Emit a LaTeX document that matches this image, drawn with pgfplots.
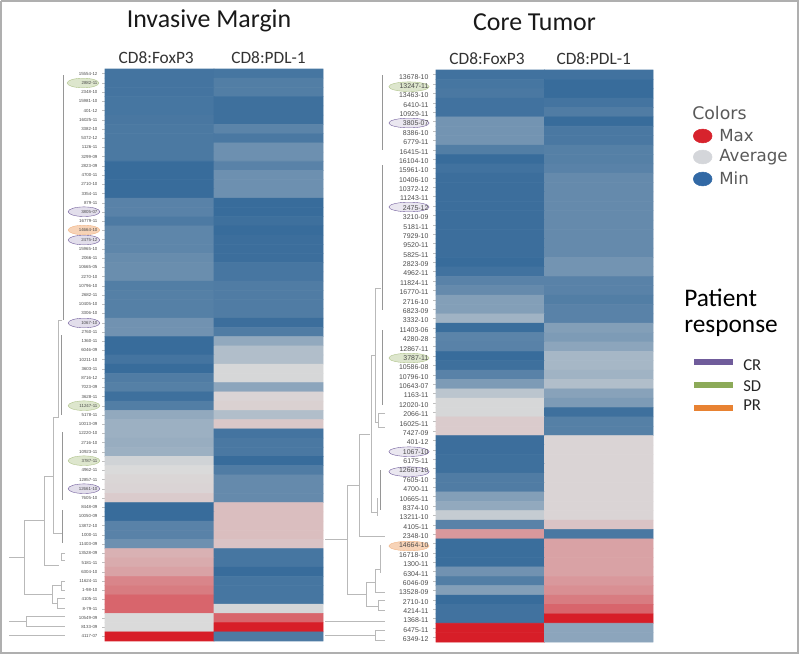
\documentclass[border=0pt]{standalone}
\usepackage{fontspec}
\setmainfont{Carlito}
\newfontfamily\lab{Liberation Sans}
\newfontfamily\leg{DejaVu Sans}
\usepackage{pgfplots}
\pgfplotsset{compat=1.18}

% 1 px of the reference = 0.75pt
\definecolor{dend}{RGB}{185,185,185}
\definecolor{dendd}{RGB}{150,150,150}
\definecolor{frame}{RGB}{175,175,175}
\definecolor{crl}{RGB}{112,92,155}
\definecolor{sdl}{RGB}{140,170,88}
\definecolor{prl}{RGB}{232,130,50}
\definecolor{keymax}{RGB}{215,35,45}
\definecolor{keyavg}{RGB}{212,214,218}
\definecolor{keymin}{RGB}{50,105,165}

\pgfplotsset{
  colormap={hm}{rgb255(0)=(56,108,155) rgb255(2)=(115,148,178) rgb255(4)=(218,218,218) rgb255(8)=(215,30,40)},
  panel/.style={
    scale only axis, anchor=north west,
    colormap name=hm, point meta min=-1, point meta max=1,
    y dir=reverse, xmin=-0.5, xmax=1.5, ymin=-0.5,
    axis line style={draw=none}, clip=false,
    xtick pos=top, xticklabel pos=top, ytick pos=left,
    xtick style={draw=none}, ytick style={draw=black!25, line width=0.3pt},
    tick align=outside, major tick length=2pt,
    xticklabel style={font=\fontsize{13}{15}\selectfont, text=black!80, anchor=center, yshift=6.5pt},
    yticklabel style={inner sep=0pt, xshift=-3.5pt},
    title style={font=\fontsize{19.4}{22}\selectfont, anchor=center, text=black!90},
  },
  hm/.style={matrix plot*, mesh/cols=2, point meta=explicit},
}

\begin{document}
\begin{tikzpicture}
\useasboundingbox (0,0) rectangle (600pt,-491.25pt);

% canvas in reference pixels: frame, dendrograms, ovals, legend
\begin{axis}[scale only axis, hide axis, clip=false, at={(0pt,0pt)}, anchor=north west,
  width=600pt, height=491.25pt, xmin=0, xmax=800, ymin=0, ymax=655, y dir=reverse,
  unbounded coords=jump]
\addplot[frame, line width=1.1pt] coordinates {(1,1)(798,1)(798,653)(1,653)(1,1)};

% trees
\addplot[dend, line width=0.6pt] coordinates {
  (9,557.7)(24,557.7) (nan,nan)
  (43.5,520)(24,520)(24,594)(52,594) (nan,nan)
  (53,476)(44,476)(44,565)(59,565) (nan,nan)
  (62,320)(58,320)(58,417)(53,417)(53,533)(62,533) (nan,nan)
  (53,476)(53,417) (nan,nan)
  (61,585)(52,585)(52,603)(57.7,603) (nan,nan)
  (65,598)(57.7,598)(57.7,608)(65,608) (nan,nan)
  (65,581)(61,581)(61,590)(65,590) (nan,nan)
  (65,553)(61,553)(61,560)(65,560) (nan,nan)
  (9,621.7)(26,621.7) (nan,nan)
  (65,616.7)(26,616.7)(26,626.7)(65,626.7) (nan,nan)
  (9,635.7)(65,635.7) (nan,nan)
  (325,539)(347.7,539) (nan,nan)
  (325,621.7)(385,621.7) (nan,nan)
  (325,635)(375,635) (nan,nan)
  (385,630)(375,630)(375,640)(385,640) (nan,nan)
  (359,485)(347.7,485)(347.7,594)(366.7,594) (nan,nan)
  (370,434)(359,434)(359,536)(385,536) (nan,nan)
  (375,355)(371,355)(371,512)(378,512) (nan,nan)
  (381,288)(375,288)(375,422)(378,422) (nan,nan)
  (385,413)(378,413)(378,427)(385,427) (nan,nan)
  (375,582)(366.7,582)(366.7,606)(378,606) (nan,nan)
  (380,569)(375,569)(375,592.7)(385,592.7) (nan,nan)
  (385,600)(378,600)(378,610)(385,610) (nan,nan)
  (380,545)(380,573) (nan,nan)
  (377,498)(377,516) (nan,nan)
};
\addplot[dendd, line width=0.6pt] coordinates {
  (63,75)(63,320) (nan,nan)
  (61.5,335)(61.5,415) (nan,nan)
  (62,432)(62,500) (nan,nan)
  (62,510)(62,543) (nan,nan)
  (382.5,75)(382.5,150) (nan,nan)
  (382,165)(382,310) (nan,nan)
  (382,330)(382,405) (nan,nan)
  (380,470)(380,510) (nan,nan)
};

% response ovals, under the labels
\addplot[only marks, mark=*, mark size=3.6pt,
  mark options={xscale=3.3, draw=sdl!70, fill=sdl!30, line width=0.3pt}]
  coordinates {(83,83)(84,405.7)(84,460.7)};
\addplot[only marks, mark=*, mark size=3.6pt,
  mark options={xscale=3.3, draw=crl, fill=crl!20, line width=0.3pt}]
  coordinates {(84,211.7)(84,240)(84,323)(84,488.7)};
\addplot[only marks, mark=*, mark size=3.6pt,
  mark options={xscale=3.3, draw=prl!60, fill=prl!35, line width=0.3pt}]
  coordinates {(84,230)};
\addplot[only marks, mark=*, mark size=3.6pt,
  mark options={xscale=4.2, draw=sdl!70, fill=sdl!30, line width=0.3pt}]
  coordinates {(409,86.7)(409,358)};
\addplot[only marks, mark=*, mark size=3.6pt,
  mark options={xscale=4.2, draw=crl, fill=crl!15, line width=0.3pt}]
  coordinates {(409,123)(409,207)(409,451.7)(409,471.7)};
\addplot[only marks, mark=*, mark size=3.6pt,
  mark options={xscale=4.2, draw=prl!60, fill=prl!35, line width=0.3pt}]
  coordinates {(409,546)};

% colour key
\addplot[only marks, mark=*, mark size=5.2pt, mark options={xscale=1.35, draw=keymax, fill=keymax}] coordinates {(702.7,136)};
\addplot[only marks, mark=*, mark size=5.2pt, mark options={xscale=1.35, draw=keyavg, fill=keyavg}] coordinates {(702.7,157)};
\addplot[only marks, mark=*, mark size=5.2pt, mark options={xscale=1.35, draw=keymin, fill=keymin}] coordinates {(702.7,179)};
\node[anchor=west, inner sep=0pt, text=black!65, font=\leg\fontsize{13}{15}\selectfont] at (axis cs:692,113) {Colors};
\node[anchor=west, inner sep=0pt, text=black!65, font=\leg\fontsize{12.5}{14}\selectfont] at (axis cs:719,136) {Max};
\node[anchor=west, inner sep=0pt, text=black!65, font=\leg\fontsize{12.5}{14}\selectfont] at (axis cs:719,157) {Average};
\node[anchor=west, inner sep=0pt, text=black!65, font=\leg\fontsize{12.5}{14}\selectfont] at (axis cs:719,178) {Min};

% response key
\node[anchor=west, inner sep=0pt, font=\fontsize{19}{22}\selectfont] at (axis cs:684,298) {Patient};
\node[anchor=west, inner sep=0pt, font=\fontsize{19}{22}\selectfont] at (axis cs:684,328) {response};
\addplot[crl, line width=4.5pt] coordinates {(694,362)(733,362)};
\addplot[sdl, line width=4.5pt] coordinates {(694,385)(733,385)};
\addplot[prl, line width=4.5pt] coordinates {(694,408)(733,408)};
\node[anchor=west, inner sep=0pt, font=\fontsize{12.5}{14}\selectfont, text=black!85] at (axis cs:743,365) {CR};
\node[anchor=west, inner sep=0pt, font=\fontsize{12.5}{14}\selectfont, text=black!85] at (axis cs:743,386) {SD};
\node[anchor=west, inner sep=0pt, font=\fontsize{12.5}{14}\selectfont, text=black!85] at (axis cs:743,405) {PR};
\end{axis}

% Invasive Margin
\begin{axis}[panel, at={(78.75pt,-51.75pt)}, width=163.5pt, height=429pt, ymax=61.5,
  title={Invasive Margin},
  title style={at={(0.477,1)}, yshift=30.5pt},
  xtick={-0.03,1}, xticklabels={CD8:FoxP3,CD8:PDL-1},
  ytick={0,...,61},
  yticklabel style={font=\lab\fontsize{3.3}{4}\selectfont, text=black!70},
  yticklabels={15554-12,2882-11,2348-10,15981-10,401-12,16025-11,3382-10,5372-12,1126-11,3299-09,
    2823-09,4700-11,2710-10,3354-11,879-11,3805-07,16779-11,14664-10,2475-12,15965-10,
    2066-11,10665-05,2270-10,10796-10,2682-11,10405-10,3306-10,1067-10,2760-11,1360-11,
    6046-09,10211-10,3603-11,8716-12,7023-09,3628-11,11247-11,5178-11,10013-09,12220-10,
    2716-10,10923-11,3787-11,4962-11,12857-11,12661-10,7605-10,8448-09,10050-09,13872-10,
    1000-11,11403-09,13528-09,5181-11,6304-10,11624-11,1-98-10,4105-11,8-79-11,10549-09,
    8133-09,4117-07}]
\addplot[hm] table[meta=v] {
x y v
0 0 -0.90
1 0 -0.88
0 1 -0.90
1 1 -0.78
0 2 -0.90
1 2 -0.78
0 3 -0.88
1 3 -0.95
0 4 -0.88
1 4 -0.95
0 5 -0.86
1 5 -0.95
0 6 -0.84
1 6 -0.70
0 7 -0.84
1 7 -0.85
0 8 -0.84
1 8 -0.55
0 9 -0.84
1 9 -0.55
0 10 -1.00
1 10 -0.72
0 11 -1.00
1 11 -0.55
0 12 -1.00
1 12 -0.55
0 13 -1.00
1 13 -0.55
0 14 -0.72
1 14 -1.00
0 15 -0.72
1 15 -1.00
0 16 -0.82
1 16 -0.95
0 17 -0.68
1 17 -1.00
0 18 -0.68
1 18 -0.97
0 19 -0.68
1 19 -0.97
0 20 -0.60
1 20 -0.97
0 21 -0.58
1 21 -0.87
0 22 -0.58
1 22 -0.87
0 23 -0.78
1 23 -0.80
0 24 -0.75
1 24 -0.80
0 25 -0.75
1 25 -0.80
0 26 -0.75
1 26 -0.80
0 27 -0.52
1 27 -0.97
0 28 -0.52
1 28 -0.80
0 29 -1.00
1 29 -0.35
0 30 -1.00
1 30 -0.20
0 31 -0.90
1 31 -0.20
0 32 -1.00
1 32 -0.02
0 33 -0.80
1 33 -0.02
0 34 -0.75
1 34 -0.38
0 35 -0.95
1 35 0.03
0 36 -0.78
1 36 0.05
0 37 -0.35
1 37 -0.20
0 38 -0.30
1 38 0.10
0 39 -0.30
1 39 -0.90
0 40 -0.32
1 40 -0.85
0 41 -0.30
1 41 -0.85
0 42 -0.05
1 42 -1.00
0 43 0.00
1 43 -0.80
0 44 0.02
1 44 -0.62
0 45 0.03
1 45 -0.62
0 46 0.08
1 46 -0.62
0 47 -1.00
1 47 0.15
0 48 -1.00
1 48 0.15
0 49 -0.72
1 49 0.15
0 50 -0.72
1 50 0.15
0 51 -0.55
1 51 0.12
0 52 0.22
1 52 -0.88
0 53 0.25
1 53 -0.88
0 54 0.30
1 54 -1.00
0 55 0.45
1 55 -0.88
0 56 0.50
1 56 -0.88
0 57 0.62
1 57 -0.88
0 58 0.62
1 58 -0.03
0 59 0.00
1 59 0.62
0 60 0.00
1 60 1.00
0 61 1.00
1 61 -0.82
};
\end{axis}

% Core Tumor
\begin{axis}[panel, at={(327pt,-52.5pt)}, width=162.75pt, height=429pt, ymax=60.5,
  title={Core Tumor},
  title style={at={(0.454,1)}, yshift=30pt},
  xtick={-0.03,0.954}, xticklabels={CD8:FoxP3,CD8:PDL-1},
  ytick={0,...,60},
  yticklabel style={font=\lab\fontsize{5.2}{6}\selectfont, text=black!70, yshift=-1.5pt},
  yticklabels={13678-10,13247-11,13463-10,6410-11,10929-11,3805-07,8386-10,6779-11,16415-11,16104-10,
    15961-10,10406-10,10372-12,11243-11,2475-12,3210-09,5181-11,7929-10,9520-11,5825-11,
    2823-09,4962-11,11824-11,16770-11,2716-10,6823-09,3332-10,11403-06,4280-28,12867-11,
    3787-11,10586-08,10796-10,10643-07,1163-11,12020-10,2066-11,16025-11,7427-09,401-12,
    1067-10,6175-11,12661-10,7605-10,4700-11,10665-11,8374-10,13211-10,4105-11,2348-10,
    14664-10,16718-10,1300-11,6304-11,6046-09,13528-09,2710-10,4214-11,1368-11,6475-11,6349-12}]
\addplot[hm] table[meta=v] {
x y v
0 0 -0.92
1 0 -0.92
0 1 -0.88
1 1 -1.00
0 2 -0.85
1 2 -1.00
0 3 -0.92
1 3 -0.90
0 4 -0.92
1 4 -0.80
0 5 -0.50
1 5 -1.00
0 6 -0.50
1 6 -0.85
0 7 -0.50
1 7 -0.85
0 8 -0.78
1 8 -0.75
0 9 -1.00
1 9 -0.75
0 10 -0.92
1 10 -0.72
0 11 -0.97
1 11 -0.62
0 12 -0.97
1 12 -0.62
0 13 -0.97
1 13 -0.62
0 14 -0.97
1 14 -0.62
0 15 -0.97
1 15 -0.62
0 16 -0.97
1 16 -0.62
0 17 -0.97
1 17 -0.62
0 18 -0.97
1 18 -0.62
0 19 -0.97
1 19 -0.62
0 20 -1.00
1 20 -0.50
0 21 -0.92
1 21 -0.50
0 22 -0.72
1 22 -0.72
0 23 -0.62
1 23 -0.72
0 24 -0.42
1 24 -0.78
0 25 -0.42
1 25 -0.72
0 26 -0.28
1 26 -0.72
0 27 -0.98
1 27 -0.42
0 28 -0.70
1 28 -0.45
0 29 -0.72
1 29 -0.38
0 30 -1.00
1 30 -0.25
0 31 -0.95
1 31 -0.25
0 32 -0.72
1 32 -0.28
0 33 -0.45
1 33 -0.20
0 34 -0.15
1 34 -0.40
0 35 -0.02
1 35 -0.45
0 36 -0.02
1 36 -0.95
0 37 0.08
1 37 -0.75
0 38 0.08
1 38 -0.75
0 39 -0.97
1 39 0.03
0 40 -0.97
1 40 0.03
0 41 -0.95
1 41 0.03
0 42 -0.95
1 42 0.03
0 43 -0.80
1 43 0.03
0 44 -0.80
1 44 0.03
0 45 -0.42
1 45 0.03
0 46 -0.35
1 46 0.03
0 47 -0.10
1 47 0.03
0 48 -0.72
1 48 0.12
0 49 0.35
1 49 -0.85
0 50 -0.98
1 50 0.30
0 51 -0.98
1 51 0.30
0 52 -0.98
1 52 0.30
0 53 -0.52
1 53 0.30
0 54 -0.78
1 54 0.35
0 55 -0.42
1 55 0.40
0 56 -1.00
1 56 0.50
0 57 -0.92
1 57 0.62
0 58 -0.92
1 58 1.00
0 59 1.00
1 59 -0.38
0 60 1.00
1 60 -0.38
};
\end{axis}
\end{tikzpicture}
\end{document}
